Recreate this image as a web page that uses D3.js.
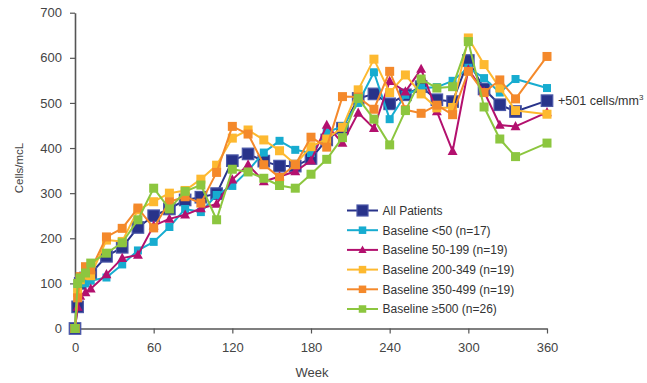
<!DOCTYPE html>
<html>
<head>
<meta charset="utf-8">
<script src="https://cdn.jsdelivr.net/npm/d3@7"></script>
<style>
  body { margin: 0; background: #fff; }
  svg { display: block; font-family: "Liberation Sans", Arial, sans-serif; }
</style>
</head>
<body>
<div id="chart"></div>
<script>
const width = 647
const height = 383

// data
const weeks = [0, 2, 4, 8, 12, 24, 36, 48, 60, 72, 84, 96, 108, 120, 132, 144, 156, 168, 180, 192, 204, 216, 228, 240, 252, 264, 276, 288, 300, 312, 324, 336, 360]
const allPatients = [0, 48, 100, 112, 122, 160, 180, 224, 250, 265, 285, 291, 299, 372, 387, 371, 360, 360, 377, 418, 444, 510, 520, 498, 518, 536, 507, 503, 594, 531, 496, 481, 505]
const base0to50 = [0, 90, 112, 100, 106, 113, 142, 173, 192, 225, 265, 258, 296, 316, 350, 390, 416, 396, 389, 435, 448, 500, 568, 464, 518, 533, 535, 549, 578, 555, 523, 553, 533]
const base50to199 = [0, 48, 72, 80, 88, 120, 156, 163, 228, 243, 252, 266, 276, 330, 363, 326, 337, 348, 372, 451, 411, 478, 444, 548, 525, 575, 481, 393, 574, 525, 451, 448, 479]
const base200to349 = [0, 80, 108, 118, 117, 196, 193, 263, 281, 300, 306, 331, 362, 422, 440, 418, 394, 364, 403, 420, 446, 529, 597, 523, 562, 520, 489, 490, 644, 585, 533, 483, 475]
const base350to499 = [0, 68, 115, 137, 130, 203, 222, 267, 223, 281, 292, 278, 346, 448, 431, 363, 335, 363, 424, 402, 514, 513, 486, 570, 485, 477, 495, 474, 570, 523, 551, 509, 603]
const base500plus = [0, 100, 112, 123, 145, 167, 190, 241, 311, 265, 304, 318, 241, 353, 347, 333, 317, 311, 342, 375, 423, 510, 464, 407, 483, 553, 533, 536, 636, 491, 420, 381, 411]

const seriesNames = ['All Patients', 'Baseline <50 (n=17)', 'Baseline 50-199 (n=19)', 'Baseline 200-349 (n=19)', 'Baseline 350-499 (n=19)', 'Baseline \u2265500 (n=26)']
const yTicks = [0, 100, 200, 300, 400, 500, 600, 700]
const xTicks = [0, 60, 120, 180, 240, 300, 360]

const series = [
    {name: seriesNames[0], values: allPatients, color: '#28338a', shape: 'square', size: 11.5, lw: 2},
    {name: seriesNames[1], values: base0to50, color: '#17acd0', shape: 'square', size: 8, lw: 2},
    {name: seriesNames[2], values: base50to199, color: '#b3106e', shape: 'triangle', size: 9, lw: 2},
    {name: seriesNames[3], values: base200to349, color: '#fdb930', shape: 'square', size: 9, lw: 2},
    {name: seriesNames[4], values: base350to499, color: '#f4892b', shape: 'square', size: 9, lw: 2},
    {name: seriesNames[5], values: base500plus, color: '#8cc63f', shape: 'square', size: 9, lw: 2}
]

const x = d3.scaleLinear().domain([0, 360]).range([75, 547])
const y = d3.scaleLinear().domain([0, 700]).range([328.5, 12.7])

const svg = d3.select('#chart')
    .append('svg')
    .attr('width', width)
    .attr('height', height)

// axes
let yAxis = svg.append('g')
    .attr('transform', `translate(${x(0)},0)`)
    .call(d3.axisLeft(y).tickValues(yTicks).tickSize(5).tickSizeOuter(0).tickPadding(8))
let xAxis = svg.append('g')
    .attr('transform', `translate(0,${y(0)})`)
    .call(d3.axisBottom(x).tickValues(xTicks).tickSize(5).tickSizeOuter(0).tickPadding(9))

for (let ax of [xAxis, yAxis]) {
    ax.select('.domain').attr('stroke', '#555').attr('stroke-width', 1.6)
    ax.selectAll('.tick line').attr('stroke', '#555').attr('stroke-width', 1.2)
    ax.selectAll('.tick text').attr('fill', '#444').attr('font-size', 13).attr('font-family', '"Liberation Sans", Arial, sans-serif')
}

svg.append('text')
    .attr('transform', 'translate(23,168) rotate(-90)')
    .attr('text-anchor', 'middle')
    .attr('font-size', 11.5)
    .attr('fill', '#444')
    .text('Cells/mcL')

svg.append('text')
    .attr('x', 312)
    .attr('y', 377)
    .attr('text-anchor', 'middle')
    .attr('font-size', 13)
    .attr('fill', '#444')
    .text('Week')

function drawMarker(g, shape, size, color, big) {
    if (shape === 'triangle') {
        let h = size
        g.append('path')
            .attr('d', `M0,${-h * 0.6}L${h * 0.55},${h * 0.42}L${-h * 0.55},${h * 0.42}Z`)
            .attr('fill', color)
    } else {
        g.append('rect')
            .attr('x', -size / 2).attr('y', -size / 2)
            .attr('width', size).attr('height', size)
            .attr('fill', color)
            .attr('stroke', big ? '#4b58a8' : 'none')
            .attr('stroke-width', big ? 1.2 : 0)
    }
}

const line = d3.line()
    .x((d, i) => x(weeks[i]))
    .y(d => y(d))

// lines + markers, All Patients underneath
for (let s of series) {
    let g = svg.append('g')
    g.append('path')
        .datum(s.values)
        .attr('d', line)
        .attr('fill', 'none')
        .attr('stroke', s.color)
        .attr('stroke-width', s.lw)
        .attr('stroke-linejoin', 'round')

    g.selectAll('g.pt')
        .data(s.values)
        .join('g')
        .attr('class', 'pt')
        .attr('transform', (d, i) => `translate(${x(weeks[i])},${y(d)})`)
        .each(function () {
            drawMarker(d3.select(this), s.shape, s.size, s.color, s.size > 10)
        })
}

// legend
let legend = svg.append('g')
series.forEach((s, i) => {
    let ly = 210.5 + i * 19.7
    let row = legend.append('g').attr('transform', `translate(0,${ly})`)
    row.append('line')
        .attr('x1', 347).attr('x2', 378)
        .attr('y1', 0).attr('y2', 0)
        .attr('stroke', s.color)
        .attr('stroke-width', 2)
    let m = row.append('g').attr('transform', 'translate(362.5,0)')
    drawMarker(m, s.shape, i === 0 ? 11 : 7.5, s.color, i === 0)
    row.append('text')
        .attr('x', 382.5)
        .attr('y', 0)
        .attr('dy', '0.36em')
        .attr('font-size', 12)
        .attr('fill', '#333')
        .text(s.name)
})

// annotation at end of All Patients line
let ann = svg.append('text')
    .attr('x', 558)
    .attr('y', y(allPatients[allPatients.length - 1]))
    .attr('dy', '0.36em')
    .attr('font-size', 12.5)
    .attr('fill', '#333')
ann.append('tspan').text('+501 cells/mm')
ann.append('tspan').attr('font-size', 8).attr('dy', '-0.6em').text('3')
</script>
</body>
</html>
